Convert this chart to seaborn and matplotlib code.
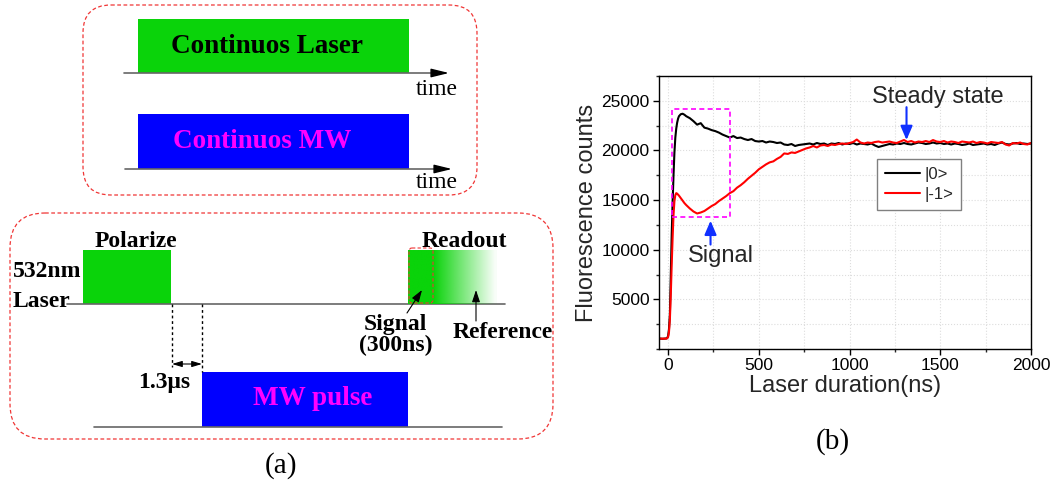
import numpy as np
import pandas as pd
import matplotlib
matplotlib.use("Agg")
import matplotlib.pyplot as plt
from matplotlib.patches import Rectangle, FancyBboxPatch
from matplotlib.ticker import MultipleLocator
import seaborn as sns

sns.set_theme(style="ticks")
plt.rcParams['font.family'] = ['Liberation Sans', 'DejaVu Sans']

# --- Datos (b): fluorescencia frente a la duracion del laser ---
tiempo_ns = [-50, -30, -10, -5, 0, 5, 10, 15, 20, 25, 30, 35, 40, 45, 50, 55, 60, 70, 80, 90,
             100, 120, 140, 160, 180, 200, 220, 240, 260, 280,
             300, 320, 340, 360, 380, 400, 420, 440, 460, 480,
             500, 520, 540, 560, 580, 600, 620, 640, 660, 680,
             700, 720, 740, 760, 780, 800, 820, 840, 860, 880,
             900, 920, 940, 960, 980, 1000, 1020, 1040, 1060, 1080,
             1100, 1120, 1140, 1160, 1180, 1200, 1220, 1240, 1260, 1280,
             1300, 1320, 1340, 1360, 1380, 1400, 1420, 1440, 1460, 1480,
             1500, 1520, 1540, 1560, 1580, 1600, 1620, 1640, 1660, 1680,
             1700, 1720, 1740, 1760, 1780, 1800, 1820, 1840, 1860, 1880,
             1900, 1920, 1940, 1960, 1980, 2000]

cuentas_0 = [1050, 1030, 1060, 1100, 1300, 2000, 3500, 7500, 11500, 14800,
             17500, 19800, 21300, 22200, 22800, 23200, 23450, 23650, 23700, 23600,
             23450, 23250, 22950, 22600, 22750, 22300, 22200, 22050, 21950, 21800,
             21600, 21450, 21300, 21450, 21250, 21300, 21150, 21050, 21150, 20950,
             20900, 20950, 20800, 20900, 20850, 20750, 20800, 20600, 20550, 20650,
             20450, 20550, 20600, 20650, 20700, 20600, 20750, 20650, 20700, 20550,
             20700, 20650, 20750, 20600, 20700, 20650, 20750, 20600, 20700, 20650,
             20600, 20700, 20500, 20350, 20450, 20550, 20650, 20600, 20700, 20650,
             20750, 20650, 20600, 20700, 20800, 20750, 20650, 20700, 20800, 20700,
             20750, 20650, 20700, 20600, 20700, 20650, 20550, 20600, 20700, 20550,
             20600, 20650, 20700, 20600, 20650, 20550, 20700, 20800, 20650, 20600,
             20700, 20750, 20650, 20700, 20650, 20700]

cuentas_m1 = [1050, 1040, 1050, 1080, 1200, 1700, 3000, 5500, 8500, 11200,
              13500, 14900, 15500, 15700, 15650, 15550, 15450, 15200, 14950, 14700,
              14500, 14150, 13850, 13650, 13750, 13900, 14150, 14400, 14600, 14900,
              15150, 15400, 15700, 15900, 16250, 16500, 16800, 17150, 17450, 17750,
              18100, 18350, 18600, 18800, 18900, 19150, 19350, 19700, 19650, 19800,
              19750, 19900, 20050, 20200, 20300, 20450, 20300, 20500, 20550, 20450,
              20600, 20550, 20650, 20700, 20650, 20750, 20850, 21100, 20800, 20700,
              20800, 20750, 20850, 20900, 20800, 20850, 20900, 20800, 20750, 20900,
              21050, 20850, 20950, 20800, 20900, 20850, 20950, 20850, 21050, 20900,
              20850, 20950, 20800, 20900, 20850, 20750, 20900, 20850, 20800, 20900,
              20750, 20850, 20800, 20700, 20850, 20800, 20750, 20850, 20600, 20500,
              20750, 20700, 20800, 20650, 20600, 20750]

etiquetas = ['|0>', '|-1>']
xticks = [0, 500, 1000, 1500, 2000]
yticks = [5000, 10000, 15000, 20000, 25000]

df = pd.DataFrame({'t': tiempo_ns, 'c0': cuentas_0, 'cm1': cuentas_m1})

W, H = 1053, 486
fig = plt.figure(figsize=(W / 100, H / 100), dpi=100)

# --- Panel (a): esquema de pulsos, en coordenadas de pixel ---
ax_a = fig.add_axes([0, 0, 1, 1])
ax_a.axis('off')

VERDE = '#0AD30A'
AZUL = '#0000FF'
MAGENTA = '#FF00FF'
ROJO = '#F03535'
GRIS = '#666666'
serif = ['Liberation Serif', 'DejaVu Serif']


def caja(x0, y0, x1, y1, r, lw=0.9):
    ax_a.add_patch(FancyBboxPatch((x0, y0), x1 - x0, y1 - y0,
                                  boxstyle=f"round,pad=0,rounding_size={r}",
                                  fc='none', ec=ROJO, lw=lw, ls=(0, (3, 2))))


def rect(x0, y0, x1, y1, color):
    ax_a.add_patch(Rectangle((x0, y0), x1 - x0, y1 - y0, fc=color, ec='none'))


def eje(x0, x1, y):
    ax_a.plot([x0, x1 - 10], [y, y], color=GRIS, lw=1.2)
    ax_a.annotate('', xy=(x1, y), xytext=(x1 - 14, y),
                  arrowprops=dict(arrowstyle='-|>,head_length=0.9,head_width=0.22',
                                  color='black', lw=1.0, shrinkA=0, shrinkB=0))


def texto(x, y, s, size, color='black', bold=True, ha='center'):
    ax_a.text(x, y, s, ha=ha, va='baseline', fontsize=size, color=color,
              fontweight='bold' if bold else 'normal', family=serif)


# caja superior: laser y MW continuos
caja(83, 5, 477, 195, 28)
rect(137.5, 19, 409, 73, VERDE)
texto(267, 53, 'Continuos Laser', 19.5)
eje(124, 449, 73)
texto(437, 95, 'time', 17, bold=False)
rect(137.5, 114, 409, 169, AZUL)
texto(262, 148, 'Continuos MW', 19.5, color=MAGENTA)
eje(125, 452, 169)
texto(437, 188, 'time', 17, bold=False)

# caja inferior: secuencia pulsada
caja(10, 213, 553, 439, 35)
rect(82.7, 250, 171, 304, VERDE)
ax_a.plot([67, 505], [304, 304], color=GRIS, lw=1.2)
texto(136, 247, 'Polarize', 17)
texto(12.5, 277, '532nm', 17, ha='left')
texto(12.5, 307, 'Laser', 17, ha='left')

# lectura con degradado
n = 200
grad = np.ones((1, n, 4))
grad[0, :, :3] = matplotlib.colors.to_rgb(VERDE)
xs = np.linspace(408, 497, n)
alfa = np.clip(1 - (xs - 434) / (497 - 434), 0.03, 1)
alfa[xs < 434] = 1
grad[0, :, 3] = alfa
ax_a.imshow(grad, extent=(408, 497, 304, 250), aspect='auto', interpolation='bilinear', zorder=2)
ax_a.add_patch(FancyBboxPatch((409, 248), 24, 55, boxstyle="round,pad=0,rounding_size=3",
                              fc='none', ec=ROJO, lw=0.8, ls=(0, (3, 2)), zorder=3))
texto(464, 247, 'Readout', 17)
texto(395, 330, 'Signal', 17)
texto(396, 351, '(300ns)', 17)
texto(503, 338, 'Reference', 17)
ax_a.annotate('', xy=(422, 290), xytext=(407, 313),
              arrowprops=dict(arrowstyle='-|>,head_length=0.6,head_width=0.2', color='black', lw=0.8,
                              shrinkA=0, shrinkB=0), zorder=4)
ax_a.annotate('', xy=(476, 290), xytext=(476, 321),
              arrowprops=dict(arrowstyle='-|>,head_length=0.6,head_width=0.2', color='black', lw=0.8,
                              shrinkA=0, shrinkB=0), zorder=4)

# retardo de 1.3 us
ax_a.plot([171.5, 171.5], [304, 367], color='black', lw=1.0, ls=(0, (2, 2)))
ax_a.plot([201.7, 201.7], [304, 372], color='black', lw=1.0, ls=(0, (2, 2)))
ax_a.annotate('', xy=(172, 364), xytext=(202, 364),
              arrowprops=dict(arrowstyle='<|-|>,head_length=0.5,head_width=0.15', color='black', lw=0.8,
                              shrinkA=0, shrinkB=0))
texto(164, 388, '1.3\u03bcs', 17)

# pulso de microondas
rect(202, 371.7, 408, 426.7, AZUL)
ax_a.plot([94, 502], [427, 427], color=GRIS, lw=1.2)
texto(313, 405, 'MW pulse', 19.5, color=MAGENTA)

texto(281, 473, '(a)', 21, bold=False)
texto(833, 449, '(b)', 21, bold=False)

ax_a.set_xlim(0, W)
ax_a.set_ylim(H, 0)

# --- Panel (b): curvas de fluorescencia ---
ax_b = fig.add_axes([659 / W, 1 - 349 / H, (1031 - 659) / W, (349 - 76) / H])
sns.lineplot(data=df, x='t', y='c0', ax=ax_b, color='black', lw=1.5, label=etiquetas[0])
sns.lineplot(data=df, x='t', y='cm1', ax=ax_b, color='#FF0000', lw=1.5, label=etiquetas[1])

ax_b.set_xlim(-50, 2000)
ax_b.set_ylim(0, 27500)
ax_b.set_xticks(xticks)
ax_b.set_yticks(yticks)
ax_b.xaxis.set_minor_locator(MultipleLocator(250))
ax_b.yaxis.set_minor_locator(MultipleLocator(2500))
ax_b.grid(True, which='both', color='#DDDDDD', ls=':', lw=0.8)
ax_b.tick_params(which='major', direction='out', length=4.3, width=1.0, labelsize=12.5, pad=2.5,
                 colors='black')
ax_b.tick_params(which='minor', direction='out', length=2.5, width=1.0)
for s in ax_b.spines.values():
    s.set_linewidth(1.0)
    s.set_color('black')
    s.set_visible(True)

ax_b.set_xlabel('Laser duration(ns)', fontsize=17)
ax_b.set_ylabel('Fluorescence counts', fontsize=17)
ax_b.xaxis.set_label_coords(0.5, -0.095)
ax_b.yaxis.set_label_coords(-0.164, 0.5)

# recuadro de la senal y flechas
ax_b.add_patch(Rectangle((24, 13300), 316, 10900, fill=False, ec=MAGENTA, lw=1.2,
                         ls=(0, (3, 2)), zorder=5))
ax_b.annotate('', xy=(234, 12925), xytext=(234, 10520),
              arrowprops=dict(arrowstyle='-|>,head_length=0.7,head_width=0.3', color='#1030FF', lw=1.5,
                              shrinkA=0, shrinkB=0))
ax_b.text(293, 8810, 'Signal', ha='center', va='baseline', fontsize=17)
ax_b.annotate('', xy=(1314, 21050), xytext=(1314, 24360),
              arrowprops=dict(arrowstyle='-|>,head_length=0.7,head_width=0.3', color='#1030FF', lw=1.5,
                              shrinkA=0, shrinkB=0))
ax_b.text(1487, 24770, 'Steady state', ha='center', va='baseline', fontsize=17)

ax_b.legend(loc='upper left', bbox_to_anchor=(877 / W, 1 - 159 / H), bbox_transform=fig.transFigure,
            borderaxespad=0, frameon=True, fancybox=False, edgecolor='#808080', fontsize=12,
            handlelength=2.1, handletextpad=0.3, borderpad=0.45, labelspacing=0.35,
            framealpha=1)

fig.savefig('out.png', dpi=100)
